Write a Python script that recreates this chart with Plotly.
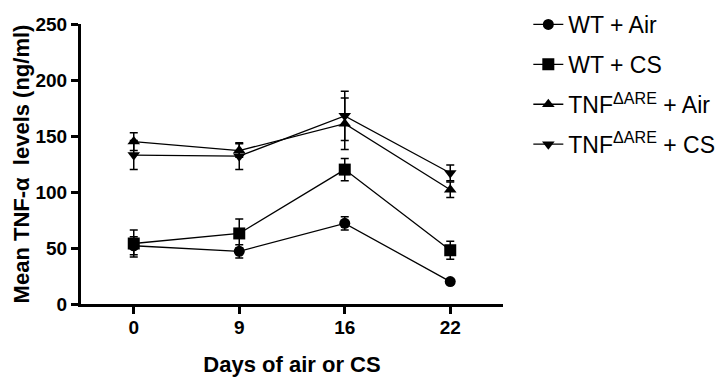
import plotly.graph_objects as go

days = ["0", "9", "16", "22"]
series_names = ["WT + Air", "WT + CS", "TNF<sup>ΔARE</sup> + Air", "TNF<sup>ΔARE</sup> + CS"]
wt_air = [52, 47, 72, 20]
wt_air_err = [8, 6, 6, 2]
wt_cs = [54, 63, 120, 48]
wt_cs_err = [12, 13, 10, 8]
tnf_air = [145, 137, 161, 102]
tnf_air_err = [8, 6, 23, 7]
tnf_cs = [133, 132, 168, 117]
tnf_cs_err = [13, 12, 22, 7]
symbols = ["circle", "square", "triangle-up", "triangle-down"]

values = [wt_air, wt_cs, tnf_air, tnf_cs]
errors = [wt_air_err, wt_cs_err, tnf_air_err, tnf_cs_err]
sizes = [11, 12, 11, 11]

fig = go.Figure()
for i, (name, v, e, s) in enumerate(zip(series_names, values, errors, symbols)):
    fig.add_trace(go.Scatter(
        x=list(range(len(days))), y=v, name=name, mode="lines+markers",
        line=dict(color="black", width=1.3),
        marker=dict(symbol=s, size=sizes[i], color="black"),
        error_y=dict(type="data", array=e, visible=True, color="black", thickness=1.5, width=4),
        legendgroup=str(i),
    ))

fig.update_layout(
    width=724, height=377,
    margin=dict(l=81, r=221, t=24, b=73, autoexpand=False),
    paper_bgcolor="white", plot_bgcolor="white",
    font=dict(family="Liberation Sans, Arial, sans-serif", color="black"),
    showlegend=True,
    legend=dict(x=1.06, y=1.075, xanchor="left", yanchor="top",
                font=dict(size=23, color="black"), tracegroupgap=7,
                itemwidth=30, bgcolor="rgba(0,0,0,0)"),
    xaxis=dict(
        range=[-0.5, 3.5], tickmode="array", tickvals=list(range(len(days))), ticktext=days,
        showline=True, linecolor="black", linewidth=3, ticks="outside", ticklen=7,
        tickwidth=2.5, tickcolor="black", showgrid=False, zeroline=False,
        tickfont=dict(size=19, family="Liberation Sans, Arial", weight="bold"),
        ticklabelstandoff=-3,
        title=dict(text="<b>Days of air or CS</b>", font=dict(size=22), standoff=25),
    ),
    yaxis=dict(
        range=[0, 250], tickvals=[0, 50, 100, 150, 200, 250],
        showline=True, linecolor="black", linewidth=3, ticks="outside", ticklen=7,
        tickwidth=2.5, tickcolor="black", showgrid=False, zeroline=False,
        tickfont=dict(size=19, family="Liberation Sans, Arial", weight="bold"),
        title=dict(text="<b>Mean TNF-α  levels (ng/ml)</b>", font=dict(size=22), standoff=0),
    ),
)

fig.write_html("out.html", post_script="document.body.style.margin='0';",
               config={"displayModeBar": False})
